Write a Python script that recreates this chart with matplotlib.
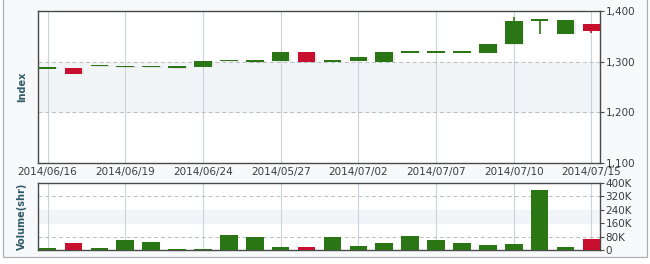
import matplotlib.pyplot as plt
from matplotlib.patches import Rectangle
import numpy as np

# trading days shown on the chart
dates = ["2014/06/16", "2014/06/17", "2014/06/18", "2014/06/19", "2014/06/20",
         "2014/06/23", "2014/06/24", "2014/06/25", "2014/06/26", "2014/05/27",
         "2014/06/30", "2014/07/01", "2014/07/02", "2014/07/03", "2014/07/04",
         "2014/07/07", "2014/07/08", "2014/07/09", "2014/07/10", "2014/07/11",
         "2014/07/14", "2014/07/15"]
opens = [1286.5, 1287.5, 1290.5, 1288.5, 1288.5, 1287.5, 1290, 1300.5, 1299.5, 1301,
         1319, 1300, 1302, 1300, 1317.5, 1317.5, 1317.5, 1318, 1334, 1380.5, 1355, 1375]
closes = [1287.5, 1276, 1291.5, 1289.5, 1289.5, 1291.5, 1301, 1301.5, 1300.5, 1319,
          1299, 1301, 1309, 1319, 1318.5, 1318.5, 1318.5, 1335.5, 1380, 1381.5, 1382, 1361]
highs = [1287.5, 1287.5, 1291.5, 1289.5, 1289.5, 1291.5, 1301, 1301.5, 1300.5, 1319,
         1319, 1301, 1309, 1319, 1318.5, 1318.5, 1318.5, 1335.5, 1389, 1381.5, 1382, 1375]
lows = [1286.5, 1276, 1290.5, 1288.5, 1288.5, 1287.5, 1290, 1300.5, 1299.5, 1301,
        1299, 1300, 1302, 1300, 1317.5, 1317.5, 1317.5, 1318, 1334, 1354, 1355, 1356]
volumes = [14, 44, 10, 61, 50, 7, 7, 91, 80, 20, 20, 80, 26, 44, 85, 62, 44, 32, 38, 360, 20, 67]  # thousands

price_ticks = [1100, 1200, 1300, 1400]
vol_ticks = [0, 80, 160, 240, 320, 400]
vol_labels = ["0", "80K", "160K", "240K", "320K", "400K"]
label_idx = [0, 3, 6, 9, 12, 15, 18, 21]

GREEN = "#2b7614"
RED = "#c8102e"
TXT = "#3c3c3c"
LBL = "#2d5a68"
GRID = "#c9d3da"

fig = plt.figure(figsize=(6.5, 2.64), dpi=100)
fig.patch.set_facecolor("white")
fig.patches.append(Rectangle((3 / 650, 1 - 257 / 264), 644 / 650, 257 / 264 + 0.01,
                             transform=fig.transFigure, facecolor="#f7f9fa",
                             edgecolor="#a9b1b7", lw=0.9, zorder=-5))

ax = fig.add_axes([38 / 650, 1 - 163 / 264, 562 / 650, 152 / 264])
axv = fig.add_axes([38 / 650, 1 - 250 / 264, 562 / 650, 67 / 264])

x = np.arange(len(dates))
colors = [GREEN if c >= o else RED for o, c in zip(opens, closes)]

for a in (ax, axv):
    a.set_facecolor("white")
    a.set_xlim(-0.37, 21.33)
    for s in a.spines.values():
        s.set_color("#4a4a4a")
        s.set_linewidth(1.0)
    for i in label_idx:
        a.axvline(i, color=GRID, lw=0.8, zorder=1)
    a.yaxis.tick_right()
    a.tick_params(axis="y", colors="#4a4a4a", labelcolor=TXT, labelsize=7.5, length=3, pad=1)

# price panel
ax.set_ylim(1100, 1400)
ax.axhspan(1200, 1300, color="#f2f5f7", zorder=0)
for v in (1200, 1300):
    ax.axhline(v, color="#b8bec3", lw=0.7, ls=(0, (4, 3)), zorder=1)
ax.set_yticks(price_ticks)
ax.set_yticklabels([f"{v:,}" for v in price_ticks])
ax.set_xticks(label_idx)
ax.set_xticklabels([dates[i] for i in label_idx])
ax.tick_params(axis="x", length=0, pad=3, labelsize=7.5, labelcolor=TXT)
ax.set_ylabel("Index", color=LBL, fontsize=7, fontweight="bold", labelpad=8)

w = 0.68
for xi, o, c, h, l, col in zip(x, opens, closes, highs, lows, colors):
    ax.vlines(xi, l, h, color=col, lw=1.2, zorder=3)
    bottom = min(o, c)
    height = max(abs(c - o), 3.5)
    ax.bar(xi + 0.06, height, w, bottom=bottom - 1.2, color="#000000", alpha=0.08, zorder=2)
    ax.bar(xi, height, w, bottom=bottom, color=col, zorder=3)

# volume panel
axv.set_ylim(0, 400)
axv.axhspan(160, 240, color="#f2f5f7", zorder=0)
for v in (80, 320):
    axv.axhline(v, color="#b8bec3", lw=0.7, ls=(0, (4, 3)), zorder=1)
axv.bar(x, volumes, w, color=colors, zorder=3)
axv.set_yticks(vol_ticks)
axv.set_yticklabels(vol_labels)
axv.set_xticks([])
axv.set_ylabel("Volume(shr)", color=LBL, fontsize=7, fontweight="bold", labelpad=8)

fig.savefig("out.png", dpi=100)
